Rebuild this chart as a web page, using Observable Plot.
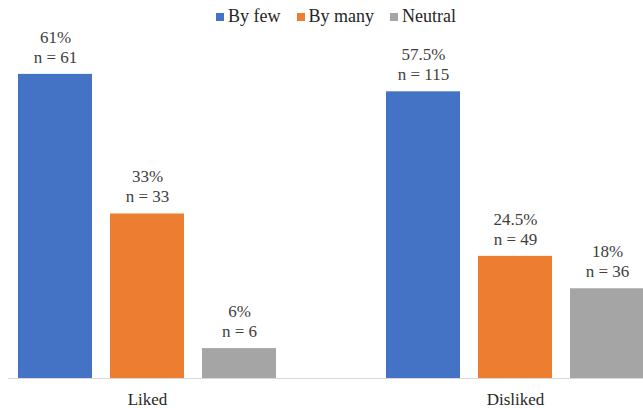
<!DOCTYPE html>
<html>
<head>
<meta charset="utf-8">
<script src="https://cdn.jsdelivr.net/npm/d3@7"></script>
<script src="https://cdn.jsdelivr.net/npm/@observablehq/plot@0.6"></script>
<style>
  html, body { margin: 0; padding: 0; background: #fff; }
  body, body *, svg text { font-family: "Liberation Serif", "Times New Roman", Tinos, serif !important; }
  #wrap { position: relative; width: 643px; height: 408px; overflow: hidden; }
  #legend { position: absolute; left: 216px; top: 6px; display: flex; align-items: center; font-size: 18px; color: #262626; }
  #legend .item { display: flex; align-items: center; margin-right: 16px; }
  #legend .sw { width: 8px; height: 8px; margin-right: 4px; }
</style>
</head>
<body>
<div id="wrap"><div id="legend"></div></div>
<script>
const groups = ["Liked", "Disliked"];
const series = ["By few", "By many", "Neutral"];
const percentLiked = [61, 33, 6];
const percentDisliked = [57.5, 24.5, 18];
const countLiked = [61, 33, 6];
const countDisliked = [115, 49, 36];
const colors = ["#4472C4", "#ED7D31", "#A5A5A5"];
const FONT = '"Liberation Serif", "Times New Roman", serif';

const percents = [percentLiked, percentDisliked];
const counts = [countLiked, countDisliked];
const data = [];
groups.forEach((g, gi) => series.forEach((s, si) => data.push({
  group: g, series: s, key: g + "|" + s,
  pct: percents[gi][si], n: counts[gi][si]
})));

// x domain: the bars of each group, with one empty slot between the groups
const xDomain = [...series.map(s => groups[0] + "|" + s), "gap",
                 ...series.map(s => groups[1] + "|" + s)];
const tickKeys = groups.map(g => g + "|" + series[1]);

const chart = Plot.plot({
  width: 643,
  height: 408,
  marginLeft: 8,
  marginRight: 0,
  marginTop: 29,
  marginBottom: 30,
  style: { fontFamily: FONT, fontSize: "17px", background: "transparent" },
  x: { domain: xDomain, range: [8, 654], paddingInner: 0.2, paddingOuter: 0.1, axis: null, label: null },
  y: { domain: [0, 70], axis: null },
  color: { domain: series, range: colors },
  marks: [
    Plot.barY(data, { x: "key", y: "pct", fill: "series" }),
    Plot.ruleY([0], { stroke: "#D9D9D9", strokeWidth: 1.2 }),
    Plot.text(data, { x: "key", y: "pct", text: d => "n = " + d.n, dy: -17, lineAnchor: "middle", fill: "#404040", fontFamily: FONT, fontSize: 17 }),
    Plot.text(data, { x: "key", y: "pct", text: d => d.pct + "%", dy: -37, lineAnchor: "middle", fill: "#404040", fontFamily: FONT, fontSize: 17 }),
    Plot.axisX({ ticks: tickKeys, tickFormat: d => d.split("|")[0], tickSize: 0, tickPadding: 14, label: null, fill: "#262626", fontFamily: FONT, fontSize: 17 })
  ]
});
document.getElementById("wrap").appendChild(chart);

const legend = document.getElementById("legend");
series.forEach((s, i) => {
  const item = document.createElement("div");
  item.className = "item";
  const sw = document.createElement("span");
  sw.className = "sw";
  sw.style.background = colors[i];
  const t = document.createElement("span");
  t.textContent = s;
  item.appendChild(sw); item.appendChild(t);
  legend.appendChild(item);
});
</script>
</body>
</html>
